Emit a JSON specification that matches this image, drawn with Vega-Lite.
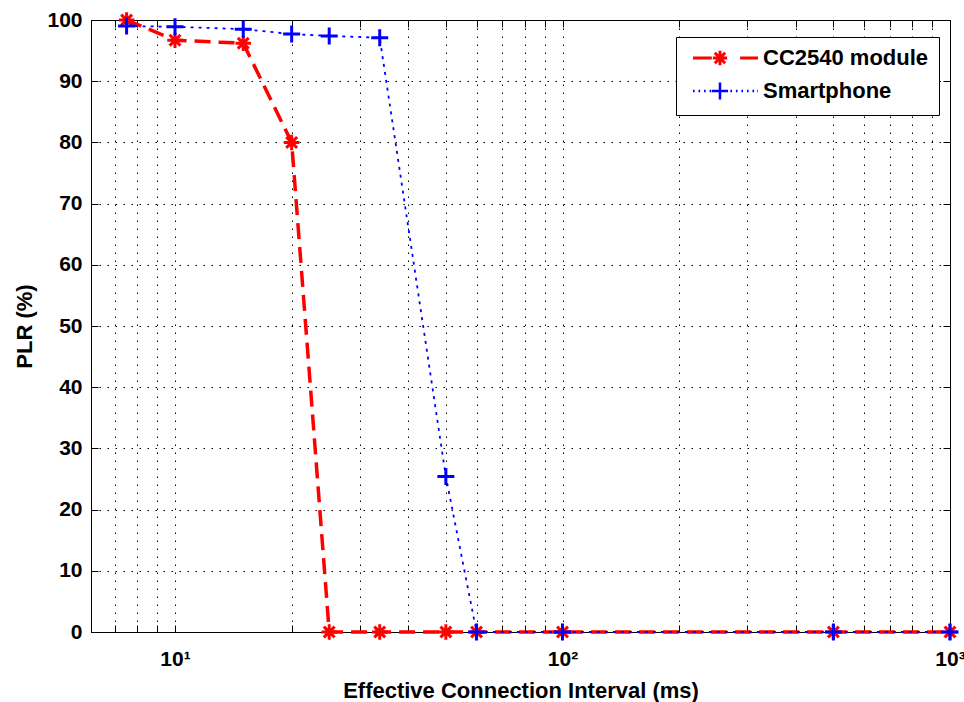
{
  "$schema": "https://vega.github.io/schema/vega-lite/v6.json",
  "width": 859,
  "height": 612,
  "autosize": "none",
  "padding": {"left": 91, "top": 20, "right": 14, "bottom": 70},
  "background": "white",
  "config": {
    "view": {"stroke": "black", "strokeWidth": 1},
    "axis": {
      "domainColor": "black",
      "tickColor": "black",
      "labelFont": "Liberation Sans",
      "labelFontWeight": "bold",
      "labelFontSize": 21,
      "labelColor": "black",
      "titleFont": "Liberation Sans",
      "titleFontWeight": "bold",
      "titleFontSize": 22,
      "titleColor": "black",
      "gridColor": "black",
      "gridDash": [1.5, 6.5],
      "gridOpacity": 1,
      "gridWidth": 1,
      "tickSize": -7
    }
  },
  "data": {
    "values": [
      {"series": "CC2540 module", "x": 7.5, "y": 100},
      {"series": "CC2540 module", "x": 10, "y": 96.7},
      {"series": "CC2540 module", "x": 15, "y": 96.2},
      {"series": "CC2540 module", "x": 20, "y": 80},
      {"series": "CC2540 module", "x": 25, "y": 0},
      {"series": "CC2540 module", "x": 33.75, "y": 0},
      {"series": "CC2540 module", "x": 50, "y": 0},
      {"series": "CC2540 module", "x": 60, "y": 0},
      {"series": "CC2540 module", "x": 100, "y": 0},
      {"series": "CC2540 module", "x": 500, "y": 0},
      {"series": "CC2540 module", "x": 1000, "y": 0},
      {"series": "Smartphone", "x": 7.5, "y": 99},
      {"series": "Smartphone", "x": 10, "y": 98.9},
      {"series": "Smartphone", "x": 15, "y": 98.5},
      {"series": "Smartphone", "x": 20, "y": 97.7},
      {"series": "Smartphone", "x": 25, "y": 97.4},
      {"series": "Smartphone", "x": 33.75, "y": 97.1},
      {"series": "Smartphone", "x": 50, "y": 25.4},
      {"series": "Smartphone", "x": 60, "y": 0},
      {"series": "Smartphone", "x": 100, "y": 0},
      {"series": "Smartphone", "x": 500, "y": 0},
      {"series": "Smartphone", "x": 1000, "y": 0}
    ]
  },
  "resolve": {"axis": {"x": "independent", "y": "independent"}},
  "layer": [
    {
      "transform": [{"filter": "datum.series === 'CC2540 module'"}],
      "mark": {"type": "line", "strokeWidth": 3.5, "strokeDash": [16, 8]},
      "encoding": {
        "x": {
          "field": "x", "type": "quantitative",
          "scale": {"type": "log", "domain": [6.07, 1000], "nice": false},
          "axis": {
            "orient": "bottom",
            "values": [7, 8, 9, 10, 20, 30, 40, 50, 60, 70, 80, 90, 100, 200, 300, 400, 500, 600, 700, 800, 900, 1000],
            "labelExpr": "datum.value == 10 ? '10¹' : datum.value == 100 ? '10²' : datum.value == 1000 ? '10³' : ''",
            "labelPadding": 23,
            "labelFlush": false,
            "labelOverlap": false,
            "title": "Effective Connection Interval (ms)",
            "titlePadding": 11
          }
        },
        "y": {
          "field": "y", "type": "quantitative",
          "scale": {"domain": [0, 100], "nice": false},
          "axis": {
            "orient": "left",
            "values": [0, 10, 20, 30, 40, 50, 60, 70, 80, 90, 100],
            "labelPadding": 16,
            "labelFlush": false,
            "title": "PLR (%)",
            "titlePadding": 10
          }
        },
        "color": {
          "field": "series", "type": "nominal",
          "scale": {"domain": ["CC2540 module", "Smartphone"], "range": ["#ff0000", "#0000ff"]},
          "legend": {
            "title": null,
            "orient": "none",
            "legendX": 585,
            "legendY": 17,
            "strokeColor": "black",
            "fillColor": "white",
            "padding": 10,
            "cornerRadius": 0,
            "labelFont": "Liberation Sans",
            "labelFontWeight": "bold",
            "labelFontSize": 22,
            "labelColor": "black",
            "labelLimit": 400,
            "symbolSize": 4225,
            "labelOffset": 6,
            "rowPadding": 5,
            "encode": {
              "symbols": {
                "update": {
                  "x": {"value": 39.5},
                  "size": {"value": 4225},
                  "shape": {"signal": "datum.value === 'CC2540 module' ? 'M-1,0H-0.42M0.45,0H1M-0.39,0H0.05M-0.17,-0.22V0.22M-0.33,-0.16L-0.01,0.16M-0.33,0.16L-0.01,-0.16' : 'M-1,0H-0.95M-0.83,0H-0.78M-0.66,0H-0.61M-0.49,0H-0.44M-0.42,0H0.08M-0.17,-0.26V0.26M0.15,0H0.2M0.32,0H0.37M0.49,0H0.54M0.66,0H0.71M0.83,0H0.88M0.98,0H1'"},
                  "strokeWidth": {"signal": "datum.value === 'CC2540 module' ? 3 : 2.5"},
                  "fill": {"value": "transparent"},
                  "strokeDash": {"value": []}
                }
              },
              "labels": {
                "update": {
                  "x": {"value": 77}
                }
              }
            }
          }
        }
      }
    },
    {
      "transform": [{"filter": "datum.series === 'CC2540 module'"}],
      "mark": {"type": "point", "filled": false, "shape": "M-1,0L1,0M0,-1L0,1M-0.7,-0.7L0.7,0.7M-0.7,0.7L0.7,-0.7", "size": 240, "strokeWidth": 3, "opacity": 1},
      "encoding": {
        "x": {"field": "x", "type": "quantitative", "axis": null},
        "y": {"field": "y", "type": "quantitative", "axis": null},
        "color": {"field": "series", "type": "nominal", "legend": null}
      }
    },
    {
      "transform": [{"filter": "datum.series === 'Smartphone'"}],
      "mark": {"type": "line", "strokeWidth": 1.8, "strokeDash": [3, 5]},
      "encoding": {
        "x": {"field": "x", "type": "quantitative", "axis": null},
        "y": {"field": "y", "type": "quantitative", "axis": null},
        "color": {"field": "series", "type": "nominal", "legend": null}
      }
    },
    {
      "transform": [{"filter": "datum.series === 'Smartphone'"}],
      "mark": {"type": "point", "filled": false, "shape": "M-1,0L1,0M0,-1L0,1", "size": 289, "strokeWidth": 3, "opacity": 1},
      "encoding": {
        "x": {
          "field": "x", "type": "quantitative",
          "axis": {
            "orient": "top",
            "values": [7, 8, 9, 10, 20, 30, 40, 50, 60, 70, 80, 90, 100, 200, 300, 400, 500, 600, 700, 800, 900, 1000],
            "labels": false, "grid": false, "title": null, "domain": false
          }
        },
        "y": {
          "field": "y", "type": "quantitative",
          "axis": {
            "orient": "right",
            "values": [0, 10, 20, 30, 40, 50, 60, 70, 80, 90, 100],
            "labels": false, "grid": false, "title": null, "domain": false
          }
        },
        "color": {"field": "series", "type": "nominal", "legend": null}
      }
    }
  ]
}
